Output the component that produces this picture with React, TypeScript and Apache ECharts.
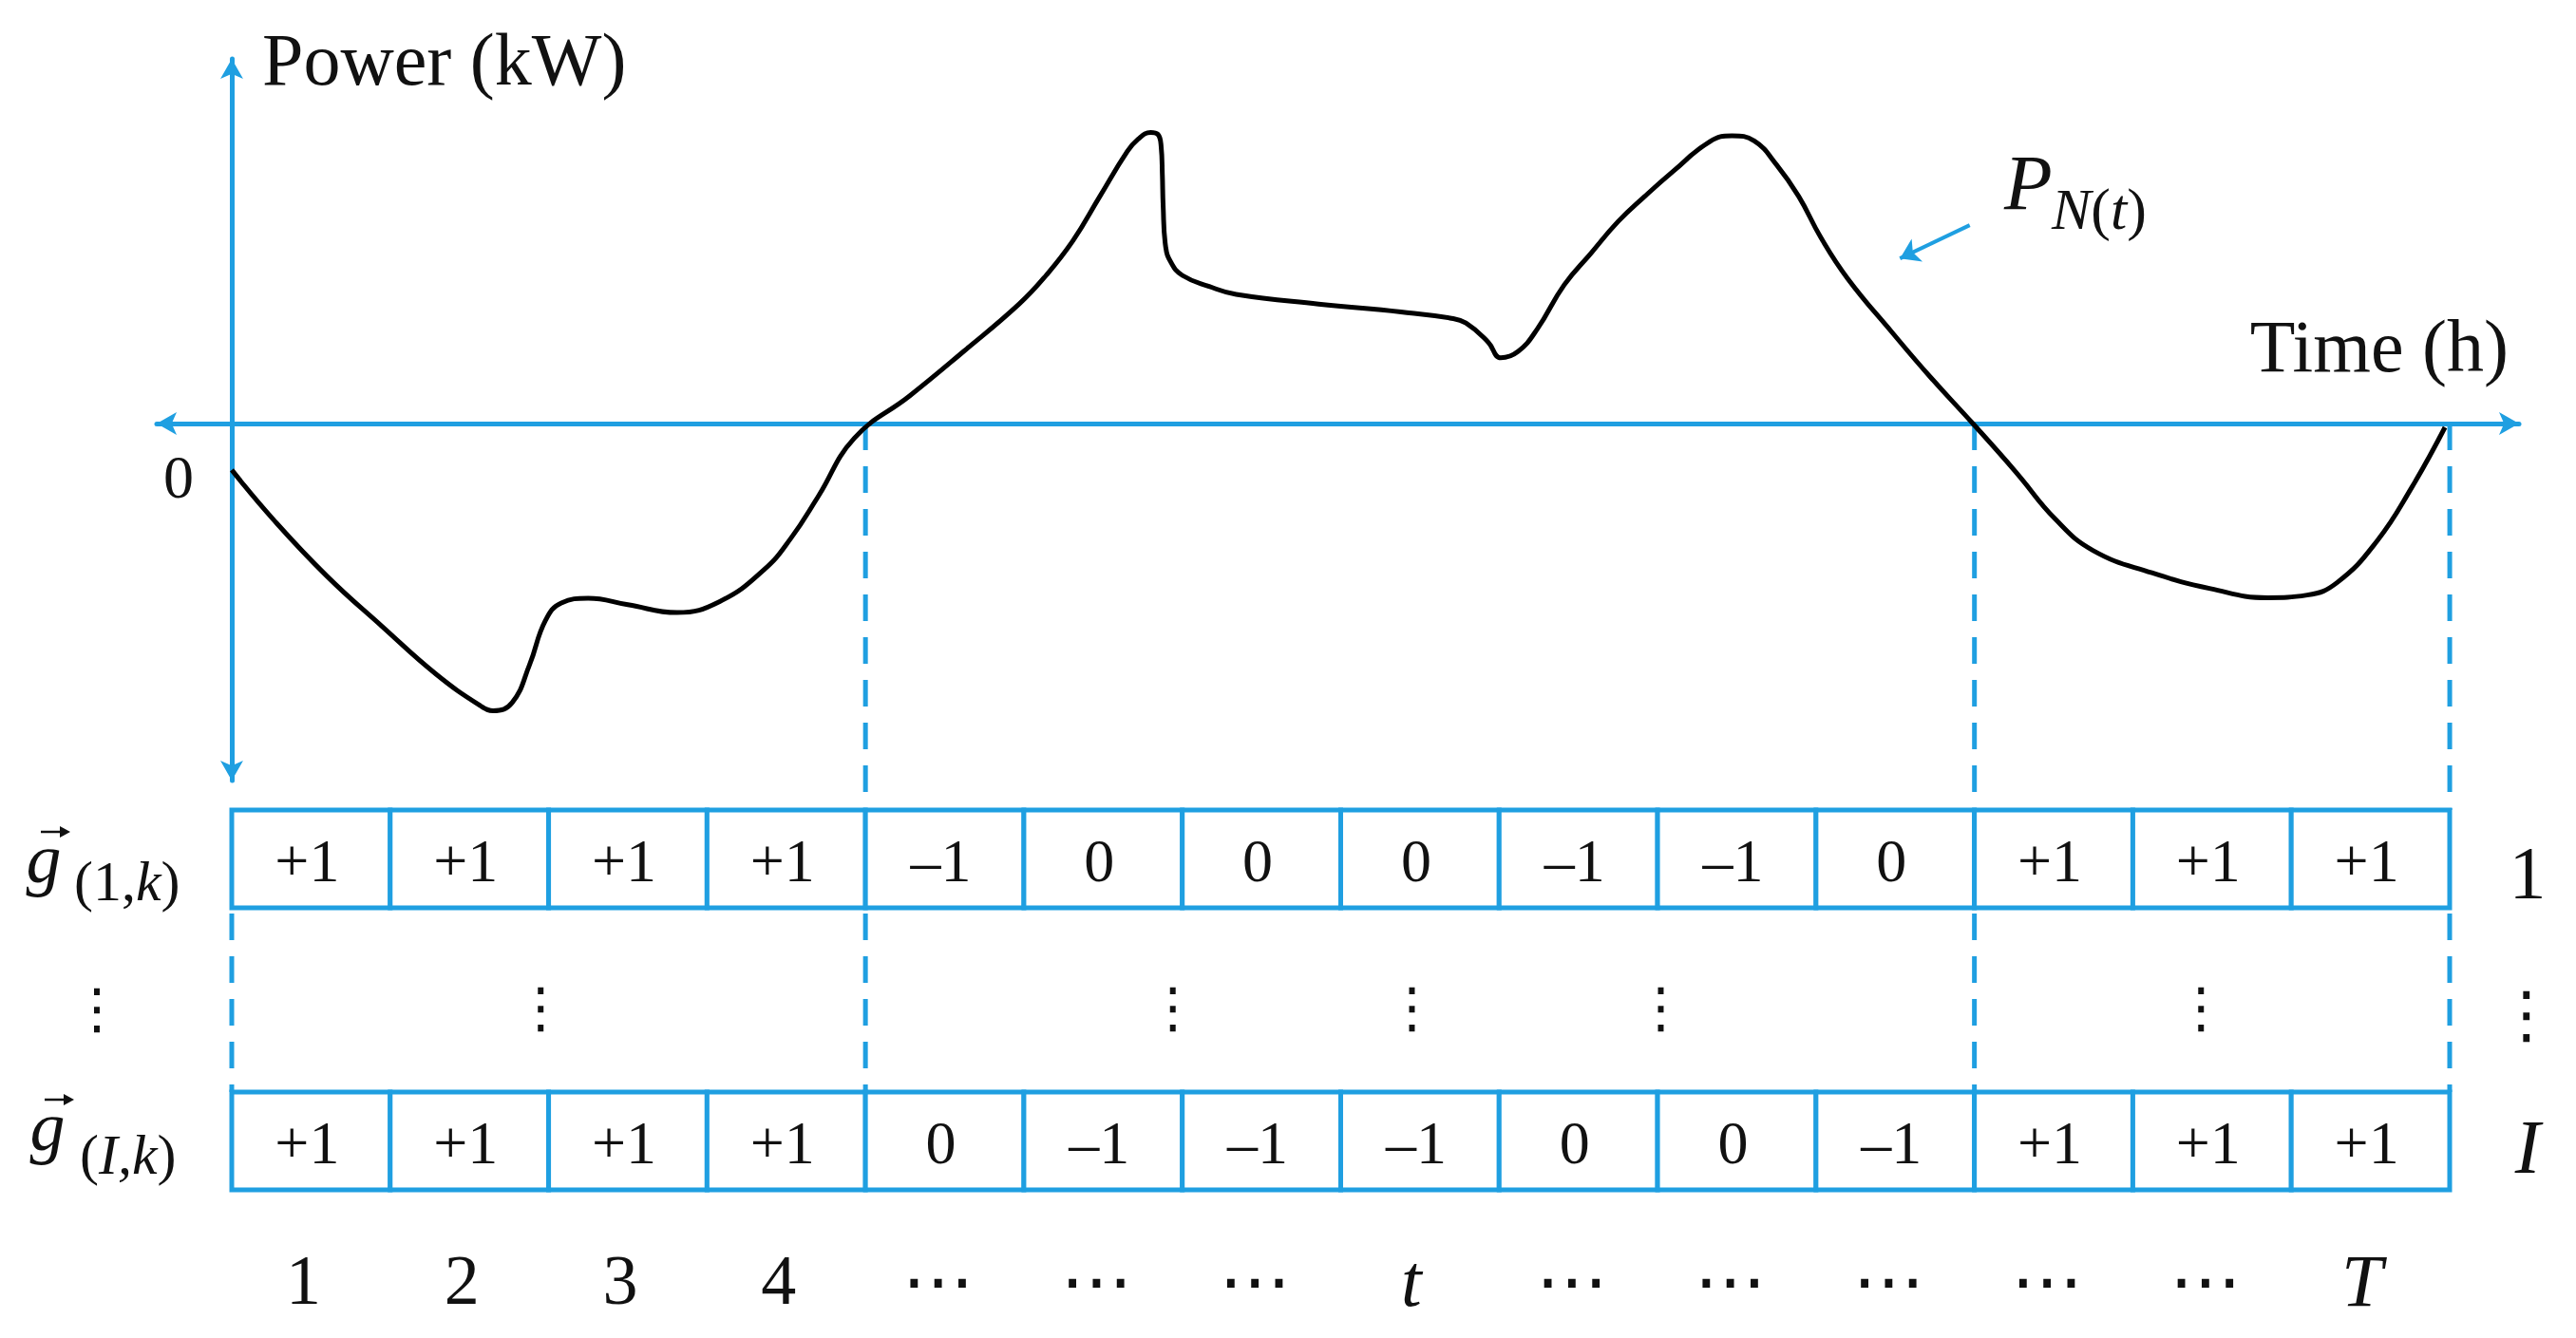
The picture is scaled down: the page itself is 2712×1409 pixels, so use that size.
import React, { useEffect, useRef } from 'react';
import * as echarts from 'echarts';

// ---------------- data ----------------
// time-slot labels under the sign table
const TIME_SLOT_LABELS = ['1', '2', '3', '4', '⋯', '⋯', '⋯', 't', '⋯', '⋯', '⋯', '⋯', '⋯', 'T'];
// sign vector of the first element g(1,k)
const SIGN_ROW_FIRST = [1, 1, 1, 1, -1, 0, 0, 0, -1, -1, 0, 1, 1, 1];
// sign vector of the last element g(I,k)
const SIGN_ROW_LAST = [1, 1, 1, 1, 0, -1, -1, -1, 0, 0, -1, 1, 1, 1];
// slot boundaries where the net power changes sign (dashed guides)
const SIGN_CHANGE_SLOTS = [4, 11, 14];
const GAP_GUIDE_SLOTS = [0, 4, 11, 14];
// columns (in slot units) holding the vertical ellipsis between the rows
const ELLIPSIS_SLOTS = [1.95, 5.94, 7.45, 9.02, 12.43];
// net power P_N(t): [time in slot units, power (relative kW)]
const NET_POWER: [number, number][] = [
  [0.0, -15.9], [0.26, -32.7], [0.6, -52.2], [0.95, -69.5], [1.29, -85.8],
  [1.57, -96.6], [1.65, -98.3], [1.77, -95.5], [1.88, -82.5], [1.98, -67.4],
  [2.08, -61.4], [2.25, -59.8], [2.5, -62.0], [2.81, -64.7], [3.08, -60.9],
  [3.36, -50.0], [3.53, -39.2], [3.7, -25.1], [3.93, -5.0],
  [4.28, 9.5], [4.62, 24.7], [4.97, 40.9], [5.14, 50.7], [5.31, 62.6],
  [5.48, 77.8], [5.65, 92.9], [5.72, 97.3], [5.8, 99.6], [5.845, 99.0],
  [5.866, 95.0], [5.874, 85.0], [5.879, 74.5], [5.895, 60.4], [5.93, 55.0],
  [6.0, 50.7], [6.17, 46.9], [6.34, 44.2], [6.86, 40.9], [7.38, 38.2],
  [7.69, 36.1], [7.79, 34.4], [7.93, 27.9], [8.01, 22.5], [8.12, 24.7],
  [8.24, 32.3], [8.41, 47.4], [8.58, 58.3], [8.75, 69.1], [8.92, 77.8],
  [9.1, 86.4], [9.33, 96.5], [9.47, 98.5], [9.61, 96.7], [9.75, 88.6],
  [9.89, 77.8], [10.03, 63.7], [10.2, 49.6], [10.48, 31.2], [10.72, 16.0],
  [10.99, 0], [11.26, -16.5], [11.51, -32.7], [11.75, -43.5], [12.12, -51.1],
  [12.49, -56.5], [12.85, -59.6], [13.1, -58.7], [13.29, -54.4], [13.54, -40.3],
  [13.76, -21.9], [13.97, -1.3],
];
// pointer from the P_N(t) label to the curve
const POINTER_FROM = [10.97, 67.9];
const POINTER_TO = [10.53, 56.5];

// ---------------- styles / layout ----------------
const BLUE = '#1f9fe1';
const INK = '#111111';
const SERIF = "'Liberation Serif', 'Times New Roman', serif";
const SYMBOLS = "'DejaVu Sans', sans-serif";

const CELL_LEFT = 244;
const CELL_RIGHT = 133;
const ROW1_TOP = 853;
const ROW_H = 103;
const GAP_TOP = 956;
const GAP_H = 194;
const ROWI_TOP = 1150;
const DASH = [28, 17];

const signText = (v: number) => (v > 0 ? '+1' : v < 0 ? '\u20131' : '0');

const cellRenderer = (params: any, api: any) => {
  const idx = api.value(0);
  const top = api.coord([idx, 1]);
  const bottom = api.coord([idx, 0]);
  const w = api.size([1, 0])[0];
  return {
    type: 'group',
    children: [
      {
        type: 'rect',
        shape: { x: top[0] - w / 2, y: top[1], width: w, height: bottom[1] - top[1] },
        style: { fill: '#ffffff', stroke: BLUE, lineWidth: 5 },
      },
      {
        type: 'text',
        x: top[0] - 4,
        y: (top[1] + bottom[1]) / 2 + 2,
        style: {
          text: signText(api.value(2)),
          fill: INK,
          fontSize: 64,
          fontFamily: SERIF,
          align: 'center',
          verticalAlign: 'middle',
        },
      },
    ],
  };
};

const hiddenValueAxis = (gridIndex: number, min: number, max: number) => ({
  type: 'value',
  gridIndex,
  min,
  max,
  show: false,
  splitLine: { show: false },
});

// vector symbol: italic g with a small arrow accent drawn above it
const gVector = (x: number, y: number) => [
  {
    type: 'text',
    x,
    y,
    style: { text: 'g', fill: INK, fontSize: 74, fontStyle: 'italic', fontFamily: SERIF, align: 'center', verticalAlign: 'middle' },
  },
  {
    type: 'line',
    shape: { x1: x - 3, y1: y - 28, x2: x + 22, y2: y - 28 },
    style: { stroke: INK, lineWidth: 2.5 },
  },
  {
    type: 'polygon',
    shape: { points: [[x + 28, y - 28], [x + 17, y - 34], [x + 17, y - 22]] },
    style: { fill: INK },
  },
];

const subLabel = (x: number, y: number, text: string) => ({
  type: 'text',
  x,
  y,
  style: {
    text,
    align: 'left',
    verticalAlign: 'middle',
    rich: {
      i: { fontSize: 60, fontStyle: 'italic', fontFamily: SERIF, fill: INK },
      n: { fontSize: 60, fontFamily: SERIF, fill: INK },
    },
  },
});

export default function App() {
  const ref = useRef<HTMLDivElement>(null);

  useEffect(() => {
    if (!ref.current) return;
    const chart = echarts.init(ref.current, null, { renderer: 'svg' });

    const axisLineStyle = {
      show: true,
      onZero: true,
      symbol: ['arrow', 'arrow'],
      symbolSize: [18, 21],
      lineStyle: { color: BLUE, width: 5 },
    };

    const option: any = {
      animation: false,
      backgroundColor: '#ffffff',
      grid: [
        { left: 165, right: 60, top: 62, bottom: 587 },
        { left: CELL_LEFT, right: CELL_RIGHT, top: ROW1_TOP, height: ROW_H },
        { left: CELL_LEFT, right: CELL_RIGHT, top: ROWI_TOP, height: ROW_H },
        { left: CELL_LEFT, right: CELL_RIGHT, top: GAP_TOP, height: GAP_H },
      ],
      xAxis: [
        {
          type: 'value',
          gridIndex: 0,
          min: -0.4737,
          max: 14.4373,
          axisLine: axisLineStyle,
          axisTick: { show: false },
          axisLabel: { show: false },
          splitLine: { show: false },
        },
        {
          type: 'category',
          gridIndex: 1,
          data: TIME_SLOT_LABELS,
          show: false,
        },
        {
          type: 'category',
          gridIndex: 2,
          data: TIME_SLOT_LABELS,
          position: 'bottom',
          axisLine: { show: false },
          axisTick: { show: false },
          splitLine: { show: false },
          axisLabel: {
            show: true,
            interval: 0,
            margin: 55,
            formatter: (v: string) =>
              v === 't' || v === 'T' ? `{it|${v}}` : v === '⋯' ? `{dots|${v}}` : `{n|${v}}`,
            rich: {
              n: { fontSize: 74, fontFamily: SERIF, color: INK, lineHeight: 80, padding: [0, 16, 0, 0] },
              it: { fontSize: 78, fontStyle: 'italic', fontFamily: SERIF, color: INK, lineHeight: 80, padding: [0, 18, 0, 0] },
              dots: { fontSize: 76, fontFamily: SYMBOLS, color: INK, lineHeight: 80, padding: [0, 14, 0, 0] },
            },
          },
        },
        hiddenValueAxis(3, 0, 14),
      ],
      yAxis: [
        {
          type: 'value',
          gridIndex: 0,
          min: -122.2,
          max: 124.8,
          axisLine: axisLineStyle,
          axisTick: { show: false },
          axisLabel: { show: false },
          splitLine: { show: false },
        },
        hiddenValueAxis(1, 0, 1),
        hiddenValueAxis(2, 0, 1),
        hiddenValueAxis(3, 0, 1),
      ],
      series: [
        {
          name: 'P_N(t)',
          type: 'line',
          xAxisIndex: 0,
          yAxisIndex: 0,
          data: NET_POWER,
          showSymbol: false,
          symbol: 'none',
          smooth: 0.45,
          lineStyle: { color: '#000000', width: 5 },
          z: 5,
          markLine: {
            silent: true,
            symbol: ['none', 'arrow'],
            symbolSize: 20,
            label: { show: false },
            lineStyle: { color: BLUE, width: 4, type: 'solid' },
            data: [[{ coord: POINTER_FROM }, { coord: POINTER_TO }]],
          },
        },
        {
          name: 'sign change guides',
          type: 'custom',
          xAxisIndex: 0,
          yAxisIndex: 0,
          data: SIGN_CHANGE_SLOTS.map((b) => [b, 0]),
          renderItem: (params: any, api: any) => {
            const p = api.coord([api.value(0), 0]);
            return {
              type: 'line',
              shape: { x1: p[0], y1: p[1], x2: p[0], y2: ROW1_TOP },
              style: { stroke: BLUE, lineWidth: 5, lineDash: DASH },
            };
          },
          z: 2,
        },
        {
          name: 'g(1,k)',
          type: 'custom',
          xAxisIndex: 1,
          yAxisIndex: 1,
          encode: { x: 0, y: 1 },
          data: SIGN_ROW_FIRST.map((v, i) => [i, 0.5, v]),
          renderItem: cellRenderer,
          z: 3,
        },
        {
          name: 'g(I,k)',
          type: 'custom',
          xAxisIndex: 2,
          yAxisIndex: 2,
          encode: { x: 0, y: 1 },
          data: SIGN_ROW_LAST.map((v, i) => [i, 0.5, v]),
          renderItem: cellRenderer,
          z: 3,
        },
        {
          name: 'gap guides',
          type: 'custom',
          xAxisIndex: 3,
          yAxisIndex: 3,
          data: GAP_GUIDE_SLOTS.map((b) => [b, 0.5]),
          renderItem: (params: any, api: any) => {
            const a = api.coord([api.value(0), 1]);
            const b = api.coord([api.value(0), 0]);
            return {
              type: 'line',
              shape: { x1: a[0], y1: a[1] + 6, x2: b[0], y2: b[1] },
              style: { stroke: BLUE, lineWidth: 5, lineDash: DASH },
            };
          },
          z: 2,
        },
        {
          name: 'row ellipsis',
          type: 'custom',
          xAxisIndex: 3,
          yAxisIndex: 3,
          data: ELLIPSIS_SLOTS.map((u) => [u, 0.5]),
          renderItem: (params: any, api: any) => {
            const p = api.coord([api.value(0), api.value(1)]);
            return {
              type: 'text',
              x: p[0],
              y: p[1] + 8,
              style: {
                text: '⋮',
                fill: INK,
                fontSize: 58,
                fontFamily: SYMBOLS,
                align: 'center',
                verticalAlign: 'middle',
              },
            };
          },
          z: 2,
        },
      ],
      graphic: {
        elements: [
          {
            type: 'text', x: 276, y: 62,
            style: { text: 'Power (kW)', fill: INK, fontSize: 78, fontFamily: SERIF, align: 'left', verticalAlign: 'middle' },
          },
          {
            type: 'text', x: 2641, y: 364,
            style: { text: 'Time (h)', fill: INK, fontSize: 78, fontFamily: SERIF, align: 'right', verticalAlign: 'middle' },
          },
          {
            type: 'text', x: 188, y: 502,
            style: { text: '0', fill: INK, fontSize: 64, fontFamily: SERIF, align: 'center', verticalAlign: 'middle' },
          },
          {
            type: 'text', x: 2110, y: 192,
            style: { text: 'P', fill: INK, fontSize: 83, fontStyle: 'italic', fontFamily: SERIF, align: 'left', verticalAlign: 'middle' },
          },
          {
            type: 'text', x: 2160, y: 220,
            style: {
              text: '{i|N}{n|(}{i|t}{n|)}',
              align: 'left',
              verticalAlign: 'middle',
              rich: {
                i: { fontSize: 62, fontStyle: 'italic', fontFamily: SERIF, fill: INK },
                n: { fontSize: 62, fontFamily: SERIF, fill: INK },
              },
            },
          },
          // row labels g(1,k) and g(I,k)
          ...gVector(46, 904),
          subLabel(78, 928, '{n|(1,}{i|k}{n|)}'),
          ...gVector(50, 1186),
          subLabel(84, 1216, '{n|(}{i|I,k}{n|)}'),
          // vertical ellipsis at the sides
          {
            type: 'text', x: 102, y: 1062,
            style: { text: '⋮', fill: INK, fontSize: 58, fontFamily: SYMBOLS, align: 'center', verticalAlign: 'middle' },
          },
          {
            type: 'text', x: 2660, y: 1068,
            style: { text: '⋮', fill: INK, fontSize: 66, fontFamily: SYMBOLS, align: 'center', verticalAlign: 'middle' },
          },
          // row indices on the right
          {
            type: 'text', x: 2661, y: 918,
            style: { text: '1', fill: INK, fontSize: 78, fontFamily: SERIF, align: 'center', verticalAlign: 'middle' },
          },
          {
            type: 'text', x: 2661, y: 1208,
            style: { text: 'I', fill: INK, fontSize: 80, fontStyle: 'italic', fontFamily: SERIF, align: 'center', verticalAlign: 'middle' },
          },
        ],
      },
    };

    chart.setOption(option);
    return () => {
      chart.dispose();
    };
  }, []);

  return (
    <div
      ref={ref}
      style={{ position: 'absolute', left: 0, top: 0, width: 2712, height: 1409, background: '#ffffff' }}
    />
  );
}
